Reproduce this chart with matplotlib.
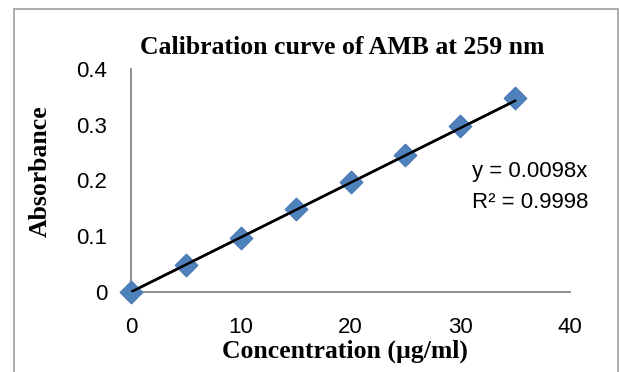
import matplotlib
matplotlib.use("Agg")
import matplotlib.pyplot as plt
from matplotlib.patches import Rectangle
import numpy as np

# Calibration data
concentration = [0, 5, 10, 15, 20, 25, 30, 35]
absorbance = [0, 0.049, 0.097, 0.148, 0.197, 0.245, 0.298, 0.348]
slope = 0.0098
x_ticks = [0, 10, 20, 30, 40]
y_ticks = [0, 0.1, 0.2, 0.3, 0.4]
y_tick_labels = ["0", "0.1", "0.2", "0.3", "0.4"]

fig = plt.figure(figsize=(6.19, 3.72), dpi=100)
ax = fig.add_axes([131 / 619, 1 - 292 / 372, 439 / 619, 223 / 372])

# outer chart border like the Excel frame
fig.patches.append(Rectangle((14 / 619, -0.05), 604 / 619, 1.05 - 9 / 372,
                             transform=fig.transFigure, fill=False,
                             edgecolor="#a0a0a0", linewidth=1.2))

trend_x = np.array([0, 35])
ax.plot(trend_x, slope * trend_x, color="black", linewidth=1.8, zorder=2)
ax.scatter(concentration, absorbance, marker="D", s=130, color="#4f81bd",
           edgecolors="#4a7ab5", zorder=3, clip_on=False)
# trend line drawn over the markers as in the Excel chart
ax.plot(trend_x, slope * trend_x, color="black", linewidth=1.8, zorder=4)

ax.set_xlim(0, 40)
ax.set_ylim(0, 0.4)
ax.set_xticks(x_ticks)
ax.set_yticks(y_ticks)
ax.set_yticklabels(y_tick_labels)
ax.tick_params(length=0, labelsize=16)
ax.tick_params(axis="x", pad=18)
ax.tick_params(axis="y", pad=17)
for lab in ax.get_xticklabels() + ax.get_yticklabels():
    lab.set_fontfamily("Liberation Sans")

for side in ["top", "right"]:
    ax.spines[side].set_visible(False)
for side in ["left", "bottom"]:
    ax.spines[side].set_color("#868686")
    ax.spines[side].set_linewidth(1.3)

serif = {"family": "Liberation Serif", "weight": "bold", "size": 18.5}
fig.text(342 / 619, 1 - 48 / 372, "Calibration curve of AMB at 259 nm",
         ha="center", va="center", **serif)
fig.text(345 / 619, 1 - 351 / 372, "Concentration (µg/ml)",
         ha="center", va="center", **serif)
fig.text(40 / 619, 1 - 171 / 372, "Absorbance", rotation=90,
         ha="center", va="center", **serif)

fig.text(472 / 619, 1 - 172 / 372, "y = 0.0098x", ha="left", va="center",
         family="Liberation Sans", size=16)
fig.text(472 / 619, 1 - 203 / 372, "R² = 0.9998", ha="left", va="center",
         family="Liberation Sans", size=16)

fig.savefig("out.png", dpi=100)
